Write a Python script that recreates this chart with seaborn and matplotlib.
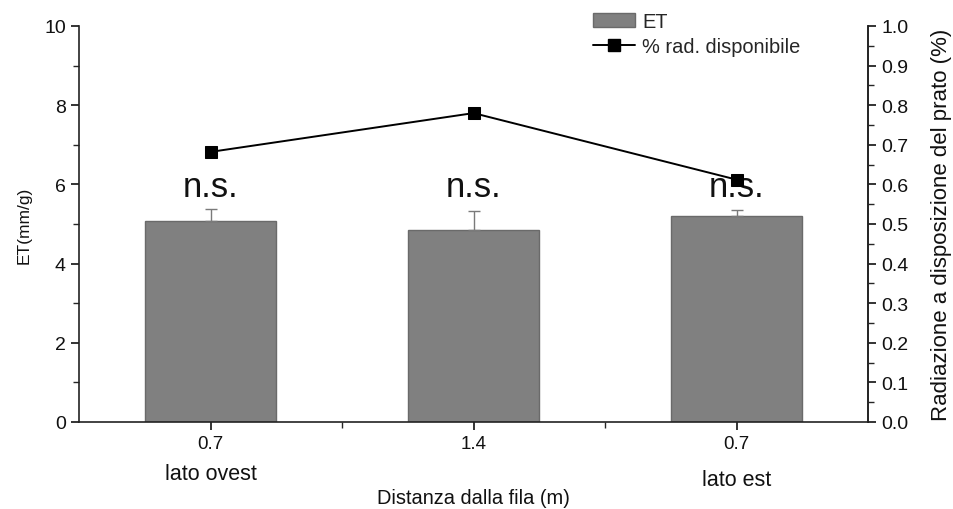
import numpy as np
import pandas as pd
import matplotlib
matplotlib.use("Agg")
import matplotlib.pyplot as plt
from matplotlib.patches import Patch
from matplotlib.lines import Line2D
from matplotlib.ticker import MultipleLocator, FormatStrFormatter
import seaborn as sns

# Data
positions = ["ovest 0.7", "centro 1.4", "est 0.7"]
dist_labels = ["0.7", "1.4", "0.7"]
side_labels = ["lato ovest", "", "lato est"]
et_mean = [5.08, 4.85, 5.20]
et_err = [0.30, 0.48, 0.15]
rad_avail = [0.682, 0.780, 0.612]
sig_labels = ["n.s.", "n.s.", "n.s."]

sns.set_theme(style="white")
plt.rcParams["font.family"] = ["Liberation Sans", "DejaVu Sans"]

df = pd.DataFrame({"pos": positions, "ET": et_mean, "err": et_err, "rad": rad_avail})

fig = plt.figure(figsize=(9.54, 5.1), dpi=100)
ax = fig.add_axes([0.0828, 0.1706, 0.8271, 0.7765])

sns.barplot(data=df, x="pos", y="ET", color="#808080", saturation=1,
            width=0.5, edgecolor="#6a6a6a", linewidth=1.0, errorbar=None, ax=ax)
xs = np.arange(len(positions))
ax.errorbar(xs, et_mean, yerr=[np.zeros(len(et_err)), et_err], fmt="none",
            ecolor="#7a7a7a", elinewidth=1.0, capsize=4, capthick=1.0, zorder=3)

ax.set_xlim(-0.5, 2.5)
ax.set_ylim(0, 10)
ax.yaxis.set_major_locator(MultipleLocator(2))
ax.yaxis.set_minor_locator(MultipleLocator(1))
ax.set_xticks(xs)
ax.set_xticks(xs[:-1] + 0.5, minor=True)
ax.set_xticklabels(dist_labels)
ax.tick_params(axis="both", which="major", direction="out", length=6, width=1.2,
               labelsize=14, colors="#111111", left=True, bottom=True)
ax.tick_params(axis="x", which="major", labelsize=13.5)
ax.tick_params(axis="both", which="minor", direction="out", length=4, width=1.0,
               left=True, bottom=True)
ax.set_xlabel("Distanza dalla fila (m)", fontsize=14.4, labelpad=26, color="#111111")
ax.set_ylabel("ET(mm/g)", fontsize=12.5, labelpad=9, color="#111111")
for s in ["left", "bottom", "right"]:
    ax.spines[s].set_color("#222222")
    ax.spines[s].set_linewidth(1.2)
ax.spines["top"].set_visible(False)

# side annotations below tick labels
for x, lab, dy in zip(xs, side_labels, [-0.131, 0, -0.146]):
    if lab:
        ax.text(x, dy, lab, transform=ax.get_xaxis_transform(),
                ha="center", va="center", fontsize=15.5, color="#111111")

# significance labels
for x, lab in zip(xs, sig_labels):
    ax.text(x, 5.95, lab, ha="center", va="center", fontsize=25, color="#111111", zorder=5)

# secondary axis: available radiation
ax2 = ax.twinx()
sns.lineplot(x=xs, y=rad_avail, ax=ax2, color="black", linewidth=1.4,
             marker="s", markersize=9, markeredgecolor="black", zorder=4)
ax2.set_ylim(0, 1.0)
ax2.yaxis.set_major_locator(MultipleLocator(0.1))
ax2.yaxis.set_minor_locator(MultipleLocator(0.05))
ax2.yaxis.set_major_formatter(FormatStrFormatter("%.1f"))
ax2.tick_params(axis="y", which="major", direction="out", length=6, width=1.2,
                labelsize=14, colors="#111111", right=True)
ax2.tick_params(axis="y", which="minor", direction="out", length=4, width=1.0, right=True)
ax2.set_ylabel("Radiazione a disposizione del prato (%)", fontsize=16, labelpad=16,
               color="#111111")
for s in ["top", "left", "bottom"]:
    ax2.spines[s].set_visible(False)
ax2.spines["right"].set_color("#222222")
ax2.spines["right"].set_linewidth(1.2)

handles = [Patch(facecolor="#808080", edgecolor="#6a6a6a"),
           Line2D([0], [0], color="black", marker="s", markersize=8, linewidth=1.4)]
fig.legend(handles, ["ET", "% rad. disponibile"], loc="upper left",
           bbox_to_anchor=(0.603, 1.01), frameon=False, fontsize=14.4,
           handlelength=2.1, handletextpad=0.35, labelspacing=0.3)

fig.savefig("out.png", dpi=100, facecolor="white")
